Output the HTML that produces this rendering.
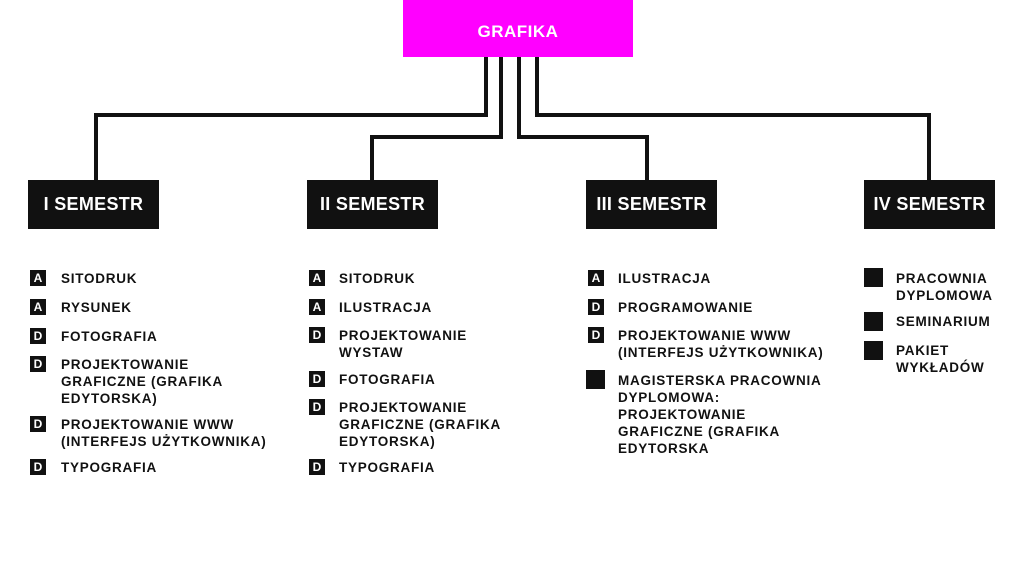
<!DOCTYPE html>
<html><head><meta charset="utf-8"><style>
*{margin:0;padding:0;box-sizing:border-box}
body{width:1024px;height:576px;background:#fff;position:relative;overflow:hidden;font-family:"Liberation Sans",sans-serif;font-weight:bold;color:#111}
.top{position:absolute;left:403px;top:0;width:230px;height:57px;background:#f0f;color:#fff;font-size:17px;text-align:center;line-height:64px;letter-spacing:0.5px}
.sem{position:absolute;top:180px;height:49px;width:131px;background:#111;color:#fff;font-size:18px;text-align:center;line-height:49px;letter-spacing:0.3px}
.it{position:absolute;font-size:13.5px;line-height:17px;letter-spacing:0.75px;white-space:nowrap}
.b{position:absolute;width:16px;height:16px;background:#111;color:#fff;font-size:12px;text-align:center;line-height:16px}
.sq{position:absolute;width:19px;height:19px;background:#111}
</style></head><body>
<div class="top">GRAFIKA</div>
<svg width="1024" height="576" style="position:absolute;left:0;top:0" fill="none" stroke="#111" stroke-width="4">
<polyline points="486,57 486,115 96,115 96,180"/>
<polyline points="501,57 501,137 372,137 372,180"/>
<polyline points="519,57 519,137 647,137 647,180"/>
<polyline points="537,57 537,115 929,115 929,180"/>
</svg>
<div class="sem" style="left:28px">I SEMESTR</div>
<div class="sem" style="left:307px">II SEMESTR</div>
<div class="sem" style="left:586px">III SEMESTR</div>
<div class="sem" style="left:864px">IV SEMESTR</div>

<div class="b" style="left:30px;top:270px">A</div><div class="it" style="left:61px;top:270px">SITODRUK</div>
<div class="b" style="left:30px;top:299px">A</div><div class="it" style="left:61px;top:299px">RYSUNEK</div>
<div class="b" style="left:30px;top:328px">D</div><div class="it" style="left:61px;top:328px">FOTOGRAFIA</div>
<div class="b" style="left:30px;top:356px">D</div><div class="it" style="left:61px;top:356px">PROJEKTOWANIE<br>GRAFICZNE (GRAFIKA<br>EDYTORSKA)</div>
<div class="b" style="left:30px;top:416px">D</div><div class="it" style="left:61px;top:416px">PROJEKTOWANIE WWW<br>(INTERFEJS UŻYTKOWNIKA)</div>
<div class="b" style="left:30px;top:459px">D</div><div class="it" style="left:61px;top:459px">TYPOGRAFIA</div>

<div class="b" style="left:309px;top:270px">A</div><div class="it" style="left:339px;top:270px">SITODRUK</div>
<div class="b" style="left:309px;top:299px">A</div><div class="it" style="left:339px;top:299px">ILUSTRACJA</div>
<div class="b" style="left:309px;top:327px">D</div><div class="it" style="left:339px;top:327px">PROJEKTOWANIE<br>WYSTAW</div>
<div class="b" style="left:309px;top:371px">D</div><div class="it" style="left:339px;top:371px">FOTOGRAFIA</div>
<div class="b" style="left:309px;top:399px">D</div><div class="it" style="left:339px;top:399px">PROJEKTOWANIE<br>GRAFICZNE (GRAFIKA<br>EDYTORSKA)</div>
<div class="b" style="left:309px;top:459px">D</div><div class="it" style="left:339px;top:459px">TYPOGRAFIA</div>

<div class="b" style="left:588px;top:270px">A</div><div class="it" style="left:618px;top:270px">ILUSTRACJA</div>
<div class="b" style="left:588px;top:299px">D</div><div class="it" style="left:618px;top:299px">PROGRAMOWANIE</div>
<div class="b" style="left:588px;top:327px">D</div><div class="it" style="left:618px;top:327px">PROJEKTOWANIE WWW<br>(INTERFEJS UŻYTKOWNIKA)</div>
<div class="sq" style="left:586px;top:370px"></div><div class="it" style="left:618px;top:372px">MAGISTERSKA PRACOWNIA<br>DYPLOMOWA:<br>PROJEKTOWANIE<br>GRAFICZNE (GRAFIKA<br>EDYTORSKA</div>

<div class="sq" style="left:864px;top:268px"></div><div class="it" style="left:896px;top:270px">PRACOWNIA<br>DYPLOMOWA</div>
<div class="sq" style="left:864px;top:312px"></div><div class="it" style="left:896px;top:313px">SEMINARIUM</div>
<div class="sq" style="left:864px;top:341px"></div><div class="it" style="left:896px;top:342px">PAKIET<br>WYKŁADÓW</div>
</body></html>
